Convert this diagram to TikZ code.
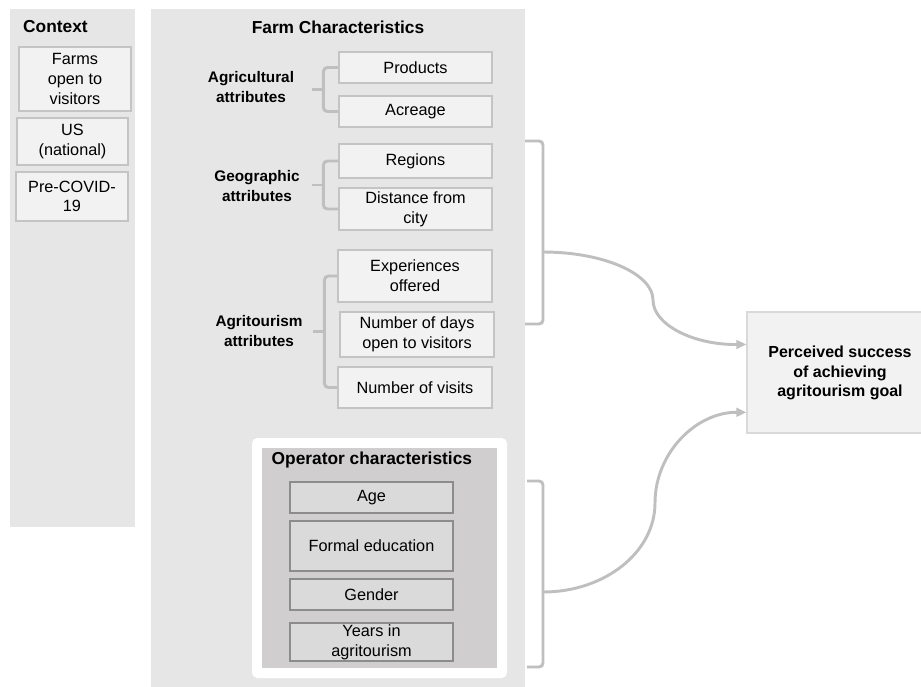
\documentclass[tikz,border=0pt]{standalone}
\usepackage{fontspec}
\setmainfont{Liberation Sans}
\usetikzlibrary{calc,arrows.meta}
\definecolor{panel}{HTML}{E6E6E6}
\definecolor{boxfill}{HTML}{F2F2F2}
\definecolor{boxline}{HTML}{C4C4C4}
\definecolor{opfill}{HTML}{D0CECE}
\definecolor{opbox}{HTML}{DADADA}
\definecolor{opline}{HTML}{8C8C8C}
\definecolor{conn}{HTML}{BFBFBF}
\definecolor{pline}{HTML}{D9D9D9}
\newcommand\bx[7]{\node[#1, minimum width={(#5-#3)*0.75pt}, minimum height={(#6-#4)*0.75pt}] (#2) at ({(#3+#5)/2},{(#4+#6)/2}) {#7};}
\tikzset{
  panelsty/.style={fill=panel, inner sep=0pt},
  wsty/.style={fill=white, rounded corners=4pt, inner sep=0pt},
  dsty/.style={fill=opfill, inner sep=0pt},
  box/.style={draw=boxline, fill=boxfill, line width=0.9pt, inner sep=0pt, align=center},
  obox/.style={draw=opline, fill=opbox, line width=0.9pt, inner sep=0pt, align=center},
  pbox/.style={draw=pline, fill=boxfill, line width=0.9pt, inner sep=0pt},
  lbl/.style={font=\fontsize{11.5}{15}\selectfont\bfseries, align=center},
  ttl/.style={font=\fontsize{13}{15}\selectfont\bfseries},
  brk/.style={draw=conn, line width=2.2pt, rounded corners=3pt},
  arr/.style={draw=conn, line width=2.2pt, -{Triangle[length=7.5pt,width=6.5pt]}}
}
\begin{document}
\begin{tikzpicture}[x=0.75pt, y=-0.75pt, font=\fontsize{12.2}{14.8}\selectfont]
\useasboundingbox (0,0) rectangle (921,686);
% panels
\bx{panelsty}{ctx}{10}{9}{135}{527}{}
\bx{panelsty}{farm}{151}{9}{525}{690}{}
\bx{wsty}{opw}{252}{438}{507}{678}{}
\bx{dsty}{opd}{262}{448}{497}{668}{}
% titles
\node[ttl, anchor=west] (ctxT) at (18.5,27) {Context};
\node[ttl] (farmT) at (338,27) {Farm Characteristics};
\node[ttl, anchor=west] (opT) at (267,460) {Operator characteristics};
% context boxes
\bx{box}{farms}{19}{47}{131}{111}{Farms\\open to\\visitors}
\bx{box}{us}{17}{118}{128}{165}{US\\(national)}
\bx{box}{pre}{16}{172}{128}{221}{Pre-COVID-\\19}
% farm boxes
\bx{box}{prod}{339}{52}{492}{83}{Products}
\bx{box}{acre}{339}{96}{492}{127}{Acreage}
\bx{box}{reg}{339}{144}{492}{178}{Regions}
\bx{box}{dist}{339}{188}{492}{230}{Distance from\\city}
\bx{box}{exp}{338}{250}{492}{302}{Experiences\\offered}
\bx{box}{days}{340}{312}{494}{357}{Number of days\\open to visitors}
\bx{box}{visits}{338}{367}{492}{408}{Number of visits}
% labels
\node[lbl] (agri) at (251,87) {Agricultural\\attributes};
\node[lbl] (geo) at (257,186) {Geographic\\attributes};
\node[lbl] (agt) at (259,331) {Agritourism\\attributes};
% operator boxes
\bx{obox}{age}{290}{482}{453}{513}{Age}
\bx{obox}{edu}{290}{521}{453}{571}{Formal education}
\bx{obox}{gen}{290}{579}{453}{610}{Gender}
\bx{obox}{yrs}{290}{623}{453}{661}{Years in\\agritourism}
% outcome
\bx{pbox}{succ}{747}{312}{925}{433}{}
\node[lbl, font=\fontsize{12}{14.5}\selectfont\bfseries] (succT) at (840,373) {Perceived success\\of achieving\\agritourism goal};
% small brackets
\draw[brk] (prod.west) -- ++(-15,0) |- (acre.west);
\draw[brk] ($(prod.west)!0.5!(acre.west)+(-15,0)$) -- ++(-11,0);
\draw[brk] (reg.west) -- ++(-15,0) |- (dist.west);
\draw[brk] ($(reg.west)!0.5!(dist.west)+(-15,0)$) -- ++(-11,0);
\draw[brk] (exp.west) -- ++(-13,0) |- (visits.west);
\draw[brk] ($(exp.west)!0.5!(visits.west)+(-13,0)$) -- ++(-11,0);
% big brackets
\coordinate (b1t) at (525,141);
\coordinate (b1b) at (525,324);
\coordinate (b1m) at (543,252);
\coordinate (b2t) at (527,481);
\coordinate (b2b) at (527,667);
\coordinate (b2m) at (543,592);
\draw[brk] (b1t) -| (b1m) |- (b1b);
\draw[brk] (b2t) -| (b2m) |- (b2b);
\coordinate (t1) at ($(succ.north west)!0.27!(succ.south west)$);
\coordinate (t2) at ($(succ.north west)!0.826!(succ.south west)$);
\draw[arr] (b1m) .. controls (604,252) and (653,274) .. (653,300) .. controls (653,325) and (694,345) .. (t1);
\draw[arr] (b2m) .. controls (605,592) and (655,552) .. (655,503) .. controls (655,453) and (696,412) .. (t2);
\end{tikzpicture}
\end{document}
